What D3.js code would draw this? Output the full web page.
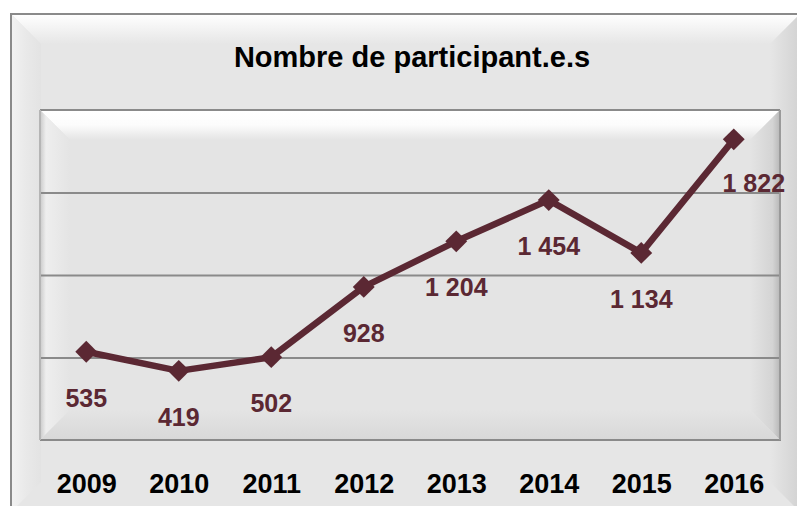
<!DOCTYPE html>
<html>
<head>
    <meta charset="utf-8">
    <title>Nombre de participant.e.s</title>
    <style>
        body {
            margin: 0;
            background: #fff;
        }

        svg {
            display: block;
            font-family: 'Liberation Sans', Arial, sans-serif;
        }

        .year text {
            font-size: 27px;
            font-weight: bold;
            fill: #000;
        }

        .value-label {
            font-size: 25px;
            font-weight: bold;
            fill: #5b2833;
        }

        .title {
            font-size: 29px;
            font-weight: bold;
            fill: #000;
        }
    </style>
</head>
<body>
    <svg width="797" height="506"></svg>

<script src="https://d3js.org/d3.v7.min.js"></script>
<script>

    // data
    let years = ['2009', '2010', '2011', '2012', '2013', '2014', '2015', '2016'];
    let participants = [535, 419, 502, 928, 1204, 1454, 1134, 1822];
    let gridValues = [500, 1000, 1500];
    let yDomain = [0, 2000];
    let titleText = 'Nombre de participant.e.s';

    let width = 797;
    let height = 506;

    // plot area (inner box)
    let plot = { left: 40, top: 110, right: 780, bottom: 440 };
    let bevel = 30;
    let lineColor = '#5b2833';

    let svg = d3.select('svg');
    let defs = svg.append('defs');

    // helper for simple gradients
    function grad(id, x1, y1, x2, y2, stops) {
        let g = defs.append('linearGradient')
            .attr('id', id)
            .attr('x1', x1).attr('y1', y1)
            .attr('x2', x2).attr('y2', y2);
        stops.forEach(s => {
            g.append('stop')
                .attr('offset', s[0])
                .attr('stop-color', s[1]);
        });
    }

    grad('outerTop', 0, 0, 0, 1, [[0, '#ffffff'], [1, '#e6e6e6']]);
    grad('outerLeft', 0, 0, 1, 0, [[0, '#f2f2f2'], [0.5, '#e9e9e9'], [1, '#e3e3e3']]);
    grad('outerRight', 0, 0, 1, 0, [[0, '#e6e6e6'], [1, '#d2d2d2']]);

    grad('plotTop', 0, 0, 0, 1, [[0, '#ffffff'], [0.5, '#fcfcfc'], [1, '#e4e4e4']]);
    grad('plotLeft', 0, 0, 1, 0, [[0, '#c9c9c9'], [0.2, '#eeeeee'], [1, '#e4e4e4']]);
    grad('plotRight', 0, 0, 1, 0, [[0, '#e4e4e4'], [0.75, '#d4d4d4'], [1, '#b8b8b8']]);
    grad('plotBottom', 0, 0, 0, 1, [[0, '#e4e4e4'], [1, '#d8d8d8']]);

    // ---- outer chart frame
    let ox0 = 11, oy0 = 14, ox1 = 800, oy1 = 512, ob = 30;

    svg.append('rect')
        .attr('x', ox0).attr('y', oy0)
        .attr('width', ox1 - ox0).attr('height', oy1 - oy0)
        .attr('fill', '#e6e6e6');

    svg.append('polygon')
        .attr('points', [[ox0, oy0], [ox1, oy0], [ox1 - ob, oy0 + ob], [ox0 + ob, oy0 + ob]].join(' '))
        .attr('fill', 'url(#outerTop)');

    svg.append('polygon')
        .attr('points', [[ox0, oy0], [ox0 + ob, oy0 + ob], [ox0 + ob, oy1 - ob], [ox0, oy1]].join(' '))
        .attr('fill', 'url(#outerLeft)');

    svg.append('polygon')
        .attr('points', [[ox1, oy0], [ox1, oy1], [ox1 - ob, oy1 - ob], [ox1 - ob, oy0 + ob]].join(' '))
        .attr('fill', 'url(#outerRight)');

    svg.append('rect')
        .attr('x', ox0).attr('y', oy0)
        .attr('width', ox1 - ox0).attr('height', oy1 - oy0)
        .attr('fill', 'none')
        .attr('stroke', '#8a8a8a')
        .attr('stroke-width', 2);

    // ---- title
    svg.append('text')
        .attr('class', 'title')
        .attr('x', 412)
        .attr('y', 67)
        .attr('text-anchor', 'middle')
        .text(titleText);

    // ---- plot area with bevel
    let pl = plot.left, pt = plot.top, pr = plot.right, pb = plot.bottom;

    svg.append('rect')
        .attr('x', pl).attr('y', pt)
        .attr('width', pr - pl).attr('height', pb - pt)
        .attr('fill', '#e4e4e4');

    svg.append('polygon')
        .attr('points', [[pl, pt], [pr, pt], [pr - bevel, pt + bevel], [pl + bevel, pt + bevel]].join(' '))
        .attr('fill', 'url(#plotTop)');

    svg.append('polygon')
        .attr('points', [[pl, pt], [pl + bevel, pt + bevel], [pl + bevel, pb - bevel], [pl, pb]].join(' '))
        .attr('fill', 'url(#plotLeft)');

    svg.append('polygon')
        .attr('points', [[pr, pt], [pr, pb], [pr - bevel, pb - bevel], [pr - bevel, pt + bevel]].join(' '))
        .attr('fill', 'url(#plotRight)');

    svg.append('polygon')
        .attr('points', [[pl, pb], [pl + bevel, pb - bevel], [pr - bevel, pb - bevel], [pr, pb]].join(' '))
        .attr('fill', 'url(#plotBottom)');

    // ---- scales
    let x = d3.scalePoint()
        .domain(years)
        .range([pl, pr])
        .padding(0.5);

    let y = d3.scaleLinear()
        .domain(yDomain)
        .range([pb, pt]);

    // gridlines
    let yAxis = d3.axisLeft(y)
        .tickValues(gridValues)
        .tickSize(-(pr - pl))
        .tickFormat('');

    svg.append('g')
        .attr('class', 'grid')
        .attr('transform', `translate(${pl},0)`)
        .call(yAxis)
        .call(g => g.select('.domain').remove())
        .call(g => g.selectAll('.tick line')
            .attr('stroke', '#8a8a8a')
            .attr('stroke-width', 2));

    // plot border lines
    svg.append('line')
        .attr('x1', pl).attr('x2', pr)
        .attr('y1', y(yDomain[1])).attr('y2', y(yDomain[1]))
        .attr('stroke', '#8a8a8a').attr('stroke-width', 2);
    svg.append('line')
        .attr('x1', pl).attr('x2', pr + 1)
        .attr('y1', y(yDomain[0])).attr('y2', y(yDomain[0]))
        .attr('stroke', '#8a8a8a').attr('stroke-width', 2);
    svg.append('line')
        .attr('x1', pr).attr('x2', pr)
        .attr('y1', pt).attr('y2', pb)
        .attr('stroke', '#9a9a9a').attr('stroke-width', 2);
    svg.append('line')
        .attr('x1', pl).attr('x2', pl)
        .attr('y1', pt).attr('y2', pb)
        .attr('stroke', '#b5b5b5').attr('stroke-width', 2);

    // x axis year labels
    let xAxis = d3.axisBottom(x)
        .tickSize(0)
        .tickPadding(0);

    svg.append('g')
        .attr('class', 'year')
        .attr('transform', `translate(0,${pb})`)
        .call(xAxis)
        .call(g => g.select('.domain').remove())
        .call(g => g.selectAll('.tick text')
            .attr('dy', null)
            .attr('y', 53));

    // ---- line + markers
    let rows = years.map((yr, i) => ({ year: yr, value: participants[i] }));

    let line = d3.line()
        .x(d => x(d.year))
        .y(d => y(d.value));

    svg.append('path')
        .datum(rows)
        .attr('fill', 'none')
        .attr('stroke', lineColor)
        .attr('stroke-width', 6.5)
        .attr('stroke-linejoin', 'round')
        .attr('d', line);

    let diamond = d3.symbol().type(d3.symbolSquare).size(240);

    svg.append('g')
        .selectAll('path')
        .data(rows)
        .join('path')
        .attr('d', diamond)
        .attr('fill', lineColor)
        .attr('transform', d => `translate(${x(d.year)},${y(d.value)}) rotate(45)`);

    // ---- value labels, below the points
    let frLocale = d3.formatLocale({ decimal: ',', thousands: ' ', grouping: [3], currency: ['', ' €'] });
    let fmt = frLocale.format(',d');

    svg.append('g')
        .selectAll('text')
        .data(rows)
        .join('text')
        .attr('class', 'value-label')
        .attr('text-anchor', 'middle')
        // last label is pushed right by the chart's edge in the original
        .attr('x', (d, i) => x(d.year) + (i === rows.length - 1 ? 20 : 0))
        .attr('y', (d, i) => y(d.value) + (i === rows.length - 1 ? 53 : 55))
        .text(d => fmt(d.value));

</script>
</body>
</html>
